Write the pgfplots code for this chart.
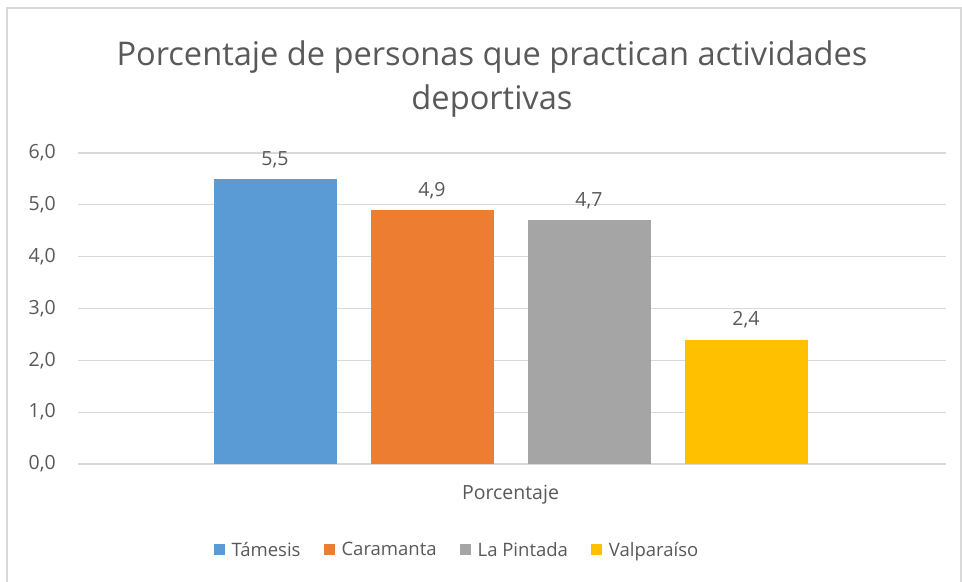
\documentclass[border=0pt]{standalone}
\usepackage{pgfplots}
\pgfplotsset{compat=1.18}
\usepackage{fontspec}
\setmainfont{Open Sans}
\definecolor{txt}{HTML}{595959}
\definecolor{gridc}{HTML}{D9D9D9}
\definecolor{cA}{HTML}{5B9BD5}
\definecolor{cB}{HTML}{ED7D31}
\definecolor{cC}{HTML}{A5A5A5}
\definecolor{cD}{HTML}{FFC000}
\begin{document}
\begin{tikzpicture}[x=1bp,y=1bp]
\useasboundingbox (0,0) rectangle (962,582);
\fill[white] (0,0) rectangle (962,582);
\draw[gridc, line width=1.5bp] (7,-5) -- (7,574) -- (961,574) -- (961,-5);
\node[text=txt, font=\fontsize{32.6bp}{44bp}\selectfont, align=center] at (492,503) {Porcentaje de personas que practican actividades\\deportivas};
\begin{axis}[
  at={(78bp,118bp)}, anchor=south west,
  scale only axis, width=868bp, height=311bp,
  xmin=-432.5, xmax=435.5,
  ymin=0, ymax=6, ytick={0,1,...,6},
  xtick={0}, xticklabels={Porcentaje},
  axis line style={draw=none},
  major tick length=0pt,
  ymajorgrids, grid style={gridc, line width=1.3bp},
  ybar=34bp, bar width=123bp,
  tick label style={text=txt, font=\fontsize{19.5bp}{22bp}\selectfont},
  yticklabel style={inner sep=0pt, xshift=-22bp,
    /pgf/number format/.cd, fixed, fixed zerofill, precision=1, use comma, assume math mode=true},
  xticklabel style={inner sep=0pt, yshift=-21bp},
  nodes near coords,
  nodes near coords style={text=txt, font=\fontsize{19.5bp}{22bp}\selectfont, inner sep=0pt, yshift=11bp,
    /pgf/number format/.cd, fixed, fixed zerofill, precision=1, use comma, assume math mode=true},
  legend columns=4,
  legend style={at={(0.4366,-0.2765)}, anchor=center, draw=none, fill=none,
    font=\fontsize{18.5bp}{22bp}\selectfont, text=txt,
    /tikz/every odd column/.append style={column sep=5bp},
    /tikz/every even column/.append style={column sep=21bp}},
  legend image code/.code={\fill[#1] (0bp,-5.5bp) rectangle (11bp,5.5bp);},
]
\addplot[fill=cA, draw=none] coordinates {(0,5.5)};
\addplot[fill=cB, draw=none] coordinates {(0,4.9)};
\addplot[fill=cC, draw=none] coordinates {(0,4.7)};
\addplot[fill=cD, draw=none] coordinates {(0,2.4)};
\legend{Támesis, Caramanta, La Pintada, Valparaíso}
\end{axis}
\end{tikzpicture}
\end{document}
